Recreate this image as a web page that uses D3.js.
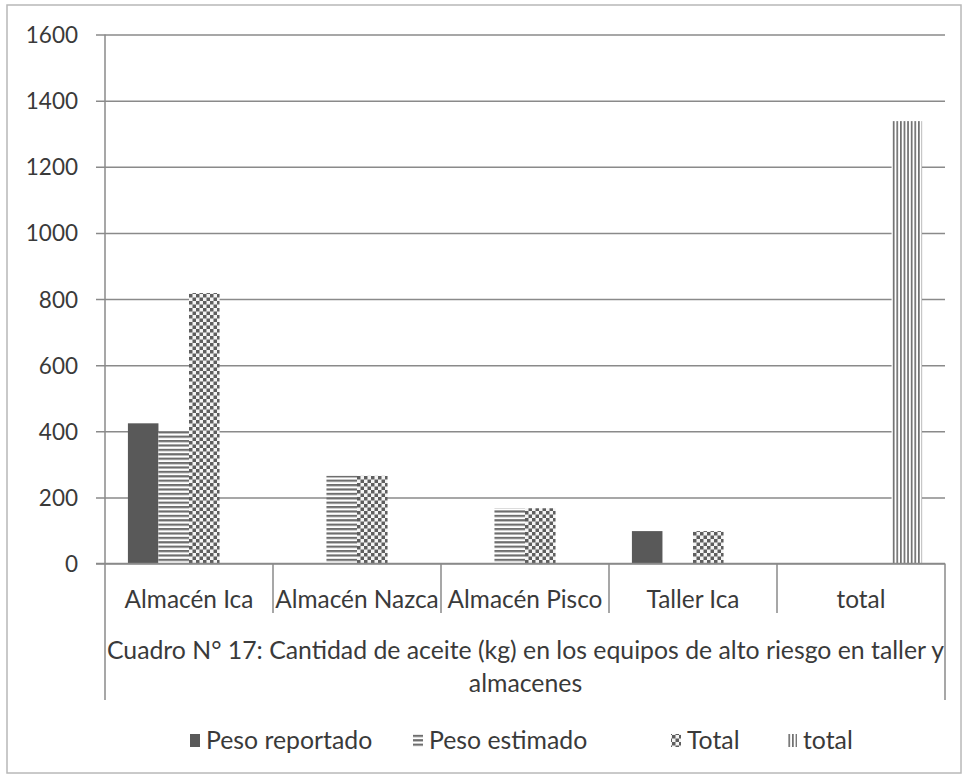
<!DOCTYPE html>
<html>
<head>
<meta charset="utf-8">
<script src="https://cdn.jsdelivr.net/npm/d3@7"></script>
<style>
  body { margin: 0; background: #fff; }
  svg text { font-family: Lato, "Open Sans", sans-serif; fill: #3a3a3a; }
</style>
</head>
<body>
<svg id="chart" width="966" height="777"></svg>
<script>
// Oil quantities (kg) per site
const categories = ["Almacén Ica", "Almacén Nazca", "Almacén Pisco", "Taller Ica", "total"];
const seriesNames = ["Peso reportado", "Peso estimado", "Total", "total"];
const pesoReportado = [424, null, null, 98, null];
const pesoEstimado  = [398, 265, 167, null, null];
const totalSitio    = [818, 265, 167, 98, null];
const totalGeneral  = [null, null, null, null, 1338];
const yTicks = [0, 200, 400, 600, 800, 1000, 1200, 1400, 1600];
const titleLines = ["Cuadro N° 17: Cantidad de aceite (kg) en los equipos de alto riesgo en taller y", "almacenes"];

const seriesValues = [pesoReportado, pesoEstimado, totalSitio, totalGeneral];
const patternIds = ["fillSolid", "fillHoriz", "fillCheck", "fillVert"];

const svg = d3.select("#chart");
const grid = "#8a8a8a";

// pattern fills
const defs = svg.append("defs");
const pH = defs.append("pattern").attr("id", "fillHoriz").attr("patternUnits", "userSpaceOnUse")
  .attr("width", 8).attr("height", 4.4);
pH.append("rect").attr("width", 8).attr("height", 4.4).attr("fill", "#fff");
pH.append("rect").attr("y", 0).attr("width", 8).attr("height", 2.2).attr("fill", "#6e6e6e");

const pC = defs.append("pattern").attr("id", "fillCheck").attr("patternUnits", "userSpaceOnUse")
  .attr("width", 7).attr("height", 7);
pC.append("rect").attr("width", 7).attr("height", 7).attr("fill", "#f4f4f4");
pC.append("rect").attr("width", 3.5).attr("height", 3.5).attr("fill", "#5e5e5e");
pC.append("rect").attr("x", 3.5).attr("y", 3.5).attr("width", 3.5).attr("height", 3.5).attr("fill", "#5e5e5e");

const pV = defs.append("pattern").attr("id", "fillVert").attr("patternUnits", "userSpaceOnUse")
  .attr("width", 3.6).attr("height", 8);
pV.append("rect").attr("width", 3.6).attr("height", 8).attr("fill", "#fff");
pV.append("rect").attr("width", 1.7).attr("height", 8).attr("fill", "#707070");

const pS = defs.append("pattern").attr("id", "fillSolid").attr("patternUnits", "userSpaceOnUse")
  .attr("width", 4).attr("height", 4);
pS.append("rect").attr("width", 4).attr("height", 4).attr("fill", "#595959");

// outer frame
svg.append("rect").attr("x", 7).attr("y", 5).attr("width", 954).attr("height", 768)
  .attr("fill", "none").attr("stroke", "#b8b8b8").attr("stroke-width", 1.5);

const plot = { left: 105, right: 945, top: 34.5, bottom: 563.5 };

const y = d3.scaleLinear().domain([0, 1600]).range([plot.bottom, plot.top]);
const x0 = d3.scaleBand().domain(categories).range([plot.left, plot.right]).padding(0);
const x1 = d3.scaleBand().domain(seriesNames).range([0, x0.bandwidth()])
  .paddingInner(0).paddingOuter(0.75);

// gridlines and value labels
const yAxis = d3.axisLeft(y).tickValues(yTicks).tickSize(-(plot.right - plot.left + 9)).tickFormat(d3.format("d"));
const gy = svg.append("g").attr("transform", `translate(${plot.right},0)`).call(yAxis);
gy.select(".domain").remove();
gy.selectAll(".tick line").attr("stroke", grid).attr("stroke-width", 1.5)
  .attr("x1", 0).attr("x2", -(plot.right - plot.left + 9));
gy.selectAll(".tick text").attr("x", -(plot.right - 78)).attr("dx", 0).attr("dy", "0.36em")
  .style("font-size", "22.5px").attr("fill", "#3a3a3a");

// bars
categories.forEach((c, ci) => {
  seriesNames.forEach((s, si) => {
    const v = seriesValues[si][ci];
    if (v == null) return;
    svg.append("rect")
      .attr("x", x0(c) + x1(s))
      .attr("y", y(v))
      .attr("width", x1.bandwidth())
      .attr("height", y(0) - y(v))
      .attr("fill", `url(#${patternIds[si]})`);
  });
});

// vertical axis line extending through the label band
const bandBottom = 700;
svg.append("line").attr("x1", plot.left).attr("x2", plot.left)
  .attr("y1", plot.top).attr("y2", bandBottom).attr("stroke", grid).attr("stroke-width", 1.5);
svg.append("line").attr("x1", plot.right).attr("x2", plot.right)
  .attr("y1", plot.bottom).attr("y2", bandBottom).attr("stroke", grid).attr("stroke-width", 1.5);
// baseline
svg.append("line").attr("x1", plot.left - 9).attr("x2", plot.right)
  .attr("y1", plot.bottom).attr("y2", plot.bottom).attr("stroke", grid).attr("stroke-width", 1.5);
// category separators
categories.slice(1).forEach(c => {
  svg.append("line").attr("x1", x0(c)).attr("x2", x0(c))
    .attr("y1", plot.bottom).attr("y2", 613).attr("stroke", grid).attr("stroke-width", 1.5);
});

// category labels
svg.selectAll(".cat").data(categories).enter().append("text")
  .attr("x", d => x0(d) + x0.bandwidth() / 2)
  .attr("y", 599).attr("dy", "0.35em").attr("text-anchor", "middle")
  .style("font-size", "24.4px").text(d => d);

// caption under the categories
const titleG = svg.append("g");
titleLines.forEach((t, i) => {
  titleG.append("text").attr("x", (plot.left + plot.right) / 2 + 0.5)
    .attr("y", 650 + i * 33).attr("dy", "0.35em").attr("text-anchor", "middle")
    .style("font-size", "24.8px").text(t);
});

// legend
const legendItems = [
  { name: seriesNames[0], fill: patternIds[0], x: 190 },
  { name: seriesNames[1], fill: patternIds[1], x: 413 },
  { name: seriesNames[2], fill: patternIds[2], x: 671 },
  { name: seriesNames[3], fill: patternIds[3], x: 787 }
];
const lg = svg.append("g");
legendItems.forEach(it => {
  lg.append("rect").attr("x", it.x).attr("y", 734).attr("width", 10).attr("height", 13)
    .attr("fill", `url(#${it.fill})`);
  lg.append("text").attr("x", it.x + 16).attr("y", 740).attr("dy", "0.35em")
    .style("font-size", "24.8px").text(it.name);
});
</script>
</body>
</html>
